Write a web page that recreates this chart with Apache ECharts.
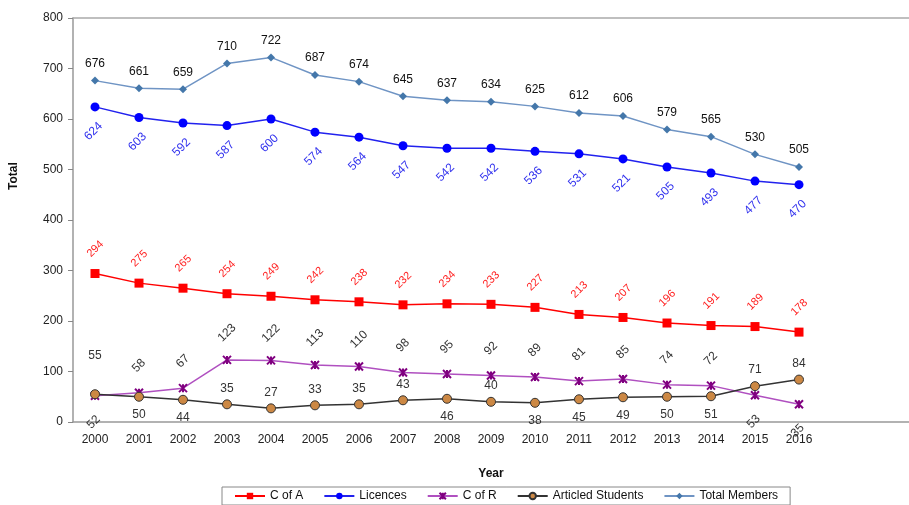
<!DOCTYPE html>
<html>
<head>
<meta charset="utf-8">
<script src="https://cdn.jsdelivr.net/npm/echarts@6/dist/echarts.min.js"></script>
<style>
html, body { margin: 0; padding: 0; background: #fff; }
#main { width: 909px; height: 505px; }
</style>
</head>
<body>
<div id="main"></div>
<script>
var years = ['2000', '2001', '2002', '2003', '2004', '2005', '2006', '2007', '2008',
    '2009', '2010', '2011', '2012', '2013', '2014', '2015', '2016', '', ''];
var cOfA = [294, 275, 265, 254, 249, 242, 238, 232, 234, 233, 227, 213, 207, 196, 191, 189, 178];
var licences = [624, 603, 592, 587, 600, 574, 564, 547, 542, 542, 536, 531, 521, 505, 493, 477, 470];
var cOfR = [52, 58, 67, 123, 122, 113, 110, 98, 95, 92, 89, 81, 85, 74, 72, 53, 35];
var articled = [55, 50, 44, 35, 27, 33, 35, 43, 46, 40, 38, 45, 49, 50, 51, 71, 84];
var totalMembers = [676, 661, 659, 710, 722, 687, 674, 645, 637, 634, 625, 612, 606, 579, 565, 530, 505];

// label sides (1 = above, 0 = below)
var cOfRSide = [0, 1, 1, 1, 1, 1, 1, 1, 1, 1, 1, 1, 1, 1, 1, 0, 0];
var artSide = [1, 0, 0, 1, 1, 1, 1, 1, 0, 1, 0, 0, 0, 0, 0, 1, 1];

var font = 'Liberation Sans, Arial, sans-serif';
var chart = echarts.init(document.getElementById('main'));

// 斜着的标签
function rotated(values, sides, color) {
    return values.map(function (v, i) {
        var up = sides[i] === 1;
        return {
            value: v,
            label: {
                show: true,
                position: up ? 'top' : 'bottom',
                rotate: 45,
                distance: up ? 12 : 10,
                offset: up ? [6, 0] : [-8, 0],
                color: color
            }
        };
    });
}

function flat(values, sides) {
    return values.map(function (v, i) {
        var up = sides[i] === 1;
        var dist = up ? 5 : 7;
        if (i === 0 && up) dist = 28;
        return {
            value: v,
            label: {
                show: true,
                position: up ? 'top' : 'bottom',
                distance: dist
            }
        };
    });
}

var asterisk = 'path://M0,0 L10,10 M10,0 L0,10 M5,0 L5,10';

option = {
    animation: false,
    textStyle: { fontFamily: font },
    grid: { left: 73, right: 0, top: 18, bottom: 83 },
    legend: {
        bottom: 0,
        left: 222,
        borderColor: '#888',
        borderWidth: 1,
        padding: [3, 12, 3, 12],
        itemGap: 20,
        itemWidth: 30,
        itemHeight: 8,
        textStyle: { fontSize: 12, color: '#111', fontFamily: font },
        data: ['C of A', 'Licences', 'C of R', 'Articled Students', 'Total Members']
    },
    xAxis: [{
        type: 'category',
        data: years,
        name: 'Year',
        nameLocation: 'middle',
        nameGap: 46,
        nameTextStyle: { fontWeight: 'bold', fontSize: 12, color: '#111' },
        axisLine: { lineStyle: { color: '#999', width: 1.5 } },
        axisTick: { length: 5, lineStyle: { color: '#888' } },
        axisLabel: { fontSize: 12, color: '#222', margin: 12 }
    }, {
        type: 'category',
        data: years,
        position: 'top',
        axisLine: { lineStyle: { color: '#aaa', width: 1.5 } },
        axisTick: { show: false },
        axisLabel: { show: false }
    }],
    yAxis: {
        type: 'value',
        min: 0,
        max: 800,
        interval: 100,
        axisLine: { show: true, lineStyle: { color: '#999', width: 1.5 } },
        axisTick: { show: true, length: 5, lineStyle: { color: '#888' } },
        axisLabel: { fontSize: 12, color: '#222', margin: 10 },
        splitLine: { show: false }
    },
    graphic: [{
        type: 'text',
        x: 8,
        y: 190,
        rotation: Math.PI / 2,
        style: { text: 'Total', font: 'bold 12px ' + font, fill: '#111' }
    }],
    series: [
        {
            name: 'C of A',
            type: 'line',
            data: rotated(cOfA, cOfA.map(function () { return 1; }), '#ff2020'),
            symbol: 'rect',
            symbolSize: 9,
            color: '#ff0000',
            lineStyle: { width: 1.5, color: '#ff0000' },
            label: { fontSize: 11 }
        },
        {
            name: 'Licences',
            type: 'line',
            data: rotated(licences, licences.map(function () { return 0; }), '#3333ee'),
            symbol: 'circle',
            symbolSize: 9,
            color: '#0000ff',
            lineStyle: { width: 1.5, color: '#2222ee' },
            label: { fontSize: 12 }
        },
        {
            name: 'C of R',
            type: 'line',
            data: rotated(cOfR, cOfRSide, '#333'),
            symbol: asterisk,
            symbolSize: 8,
            color: '#800080',
            itemStyle: { color: 'none', borderColor: '#800080', borderWidth: 2 },
            lineStyle: { width: 1.5, color: '#b050c0' },
            label: { fontSize: 12 }
        },
        {
            name: 'Articled Students',
            type: 'line',
            data: flat(articled, artSide),
            symbol: 'circle',
            symbolSize: 9,
            color: '#cc8844',
            itemStyle: { color: '#cc8844', borderColor: '#333', borderWidth: 1 },
            lineStyle: { width: 1.5, color: '#333' },
            label: { fontSize: 12, color: '#333' }
        },
        {
            name: 'Total Members',
            type: 'line',
            data: flat(totalMembers, totalMembers.map(function () { return 1; })),
            symbol: 'diamond',
            symbolSize: 8,
            color: '#4477aa',
            lineStyle: { width: 1.5, color: '#6f94c4' },
            label: { fontSize: 12, color: '#111' }
        }
    ]
};

// Total Members 标签离点远一点
option.series[4].data.forEach(function (d) { d.label.distance = 7; });

chart.setOption(option);
</script>
</body>
</html>
